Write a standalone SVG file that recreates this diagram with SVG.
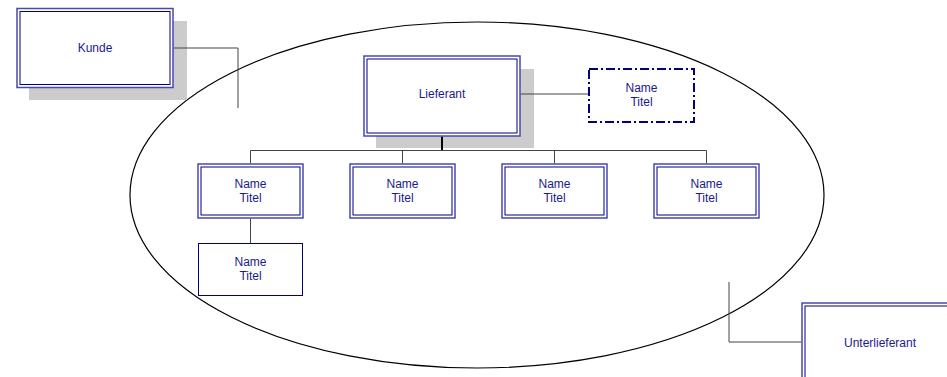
<svg xmlns="http://www.w3.org/2000/svg" width="947" height="377" viewBox="0 0 947 377">
  <style>
    .shadow { fill: #cccccc; }
    .outer { fill: #ffffff; stroke: #4848b0; stroke-width: 1.5; }
    .inner { fill: none; stroke: #000080; stroke-width: 1; }
    .single { fill: #ffffff; stroke: #000080; stroke-width: 1; }
    .dash { fill: #ffffff; stroke: #000080; stroke-width: 2; stroke-dasharray: 9 3 2 3; }
    .lbl { font-family: "Liberation Sans", Arial, sans-serif; font-size: 12px; fill: #1a1a8c; text-anchor: middle; }
    .conn { fill: none; stroke: #444444; stroke-width: 1; }
    .trunk { fill: none; stroke: #000000; stroke-width: 2; }
  </style>

  <!-- supplier boundary -->
  <ellipse cx="477" cy="195" rx="347" ry="173" fill="none" stroke="#000000" stroke-width="1.2"/>

  <g id="kunde">
    <rect class="shadow" x="29" y="21" width="158" height="79"/>
    <rect class="outer" x="17" y="8.5" width="156" height="79"/>
    <rect class="inner" x="20" y="11.5" width="150" height="73"/>
    <text class="lbl" x="95" y="52">Kunde</text>
  </g>

  <g id="lieferant">
    <rect class="shadow" x="376" y="69" width="158" height="79"/>
    <rect class="outer" x="364" y="56" width="156" height="80"/>
    <rect class="inner" x="367" y="59" width="150" height="74"/>
    <text class="lbl" x="442" y="98">Lieferant</text>
  </g>

  <g id="assistent">
    <rect class="dash" x="589" y="69" width="105" height="53"/>
    <text class="lbl" x="641.5" y="92">Name</text>
    <text class="lbl" x="641.5" y="106">Titel</text>
  </g>

  <g id="mitarbeiter1">
    <rect class="outer" x="198" y="164" width="105" height="54"/>
    <rect class="inner" x="201" y="167" width="99" height="48"/>
    <text class="lbl" x="250.5" y="188">Name</text>
    <text class="lbl" x="250.5" y="202">Titel</text>
  </g>

  <g id="mitarbeiter2">
    <rect class="outer" x="350" y="164" width="105" height="54"/>
    <rect class="inner" x="353" y="167" width="99" height="48"/>
    <text class="lbl" x="402.5" y="188">Name</text>
    <text class="lbl" x="402.5" y="202">Titel</text>
  </g>

  <g id="mitarbeiter3">
    <rect class="outer" x="502" y="164" width="105" height="54"/>
    <rect class="inner" x="505" y="167" width="99" height="48"/>
    <text class="lbl" x="554.5" y="188">Name</text>
    <text class="lbl" x="554.5" y="202">Titel</text>
  </g>

  <g id="mitarbeiter4">
    <rect class="outer" x="654" y="164" width="105" height="54"/>
    <rect class="inner" x="657" y="167" width="99" height="48"/>
    <text class="lbl" x="706.5" y="188">Name</text>
    <text class="lbl" x="706.5" y="202">Titel</text>
  </g>

  <g id="untergeordnet">
    <rect class="single" x="198.5" y="243.5" width="104" height="52"/>
    <text class="lbl" x="250.5" y="266">Name</text>
    <text class="lbl" x="250.5" y="280">Titel</text>
  </g>

  <g id="unterlieferant">
    <rect class="outer" x="802" y="303" width="156" height="80"/>
    <rect class="inner" x="805" y="306" width="150" height="74"/>
    <text class="lbl" x="880" y="347">Unterlieferant</text>
  </g>

  <!-- connectors on top of the drop shadows -->
  <g id="connectors">
    <polyline class="conn" points="173.75,48 238,48 238,108"/>
    <polyline class="trunk" points="442,136.75 442,150"/>
    <polyline class="conn" points="250.5,150.5 706.5,150.5"/>
    <line class="conn" x1="250.5" y1="150.5" x2="250.5" y2="163.25"/>
    <line class="conn" x1="402.5" y1="150.5" x2="402.5" y2="163.25"/>
    <line class="conn" x1="554.5" y1="150.5" x2="554.5" y2="163.25"/>
    <line class="conn" x1="706.5" y1="150.5" x2="706.5" y2="163.25"/>
    <line class="conn" x1="250.5" y1="218.75" x2="250.5" y2="243.5"/>
    <line class="conn" x1="520.75" y1="94" x2="588" y2="94"/>
    <polyline class="conn" points="729,282 729,342 801.25,342"/>
  </g>
</svg>
